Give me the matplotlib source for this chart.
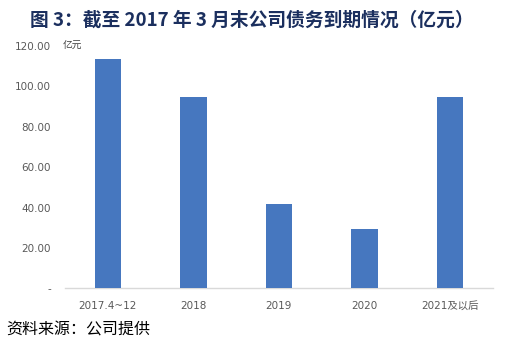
import matplotlib
matplotlib.use("Agg")
import matplotlib.pyplot as plt
import matplotlib.ticker as mticker

# --------------------------------------------------------------------------- #
# Data
# --------------------------------------------------------------------------- #

categories = ["2017.4~12", "2018", "2019", "2020", "2021及以后"]
amounts = [113.5, 94.7, 41.8, 29.3, 94.7]
y_ticks = [0, 20, 40, 60, 80, 100, 120]

TITLE = "图 3：截至 2017 年 3 月末公司债务到期情况（亿元）"
SOURCE = "资料来源：公司提供"
UNIT = "亿元"

BAR_COLOR = "#4677BF"
TICK_COLOR = "#595959"
TITLE_COLOR = "#1B2F5E"

plt.rcParams["font.family"] = ["DejaVu Sans", "Noto Sans CJK SC"]


def _fmt(v, _pos):
    return "-" if v == 0 else f"{v:.2f}"


fig = plt.figure(figsize=(5.16, 3.57), dpi=100)
ax = fig.add_axes([0.126, 0.192, 0.829, 0.680])

x = range(len(categories))
ax.bar(x, amounts, width=0.31, color=BAR_COLOR, zorder=3)

ax.set_xlim(-0.5, len(categories) - 0.5)
ax.set_ylim(0, 120)
ax.set_yticks(y_ticks)
ax.yaxis.set_major_formatter(mticker.FuncFormatter(_fmt))
ax.set_xticks(list(x))
ax.set_xticklabels(categories, family=["DejaVu Sans", "Noto Sans CJK SC"])

ax.tick_params(axis="both", length=0, labelsize=7.5, colors=TICK_COLOR)
ax.tick_params(axis="x", pad=9)
ax.tick_params(axis="y", pad=10)
for side in ["top", "right", "left"]:
    ax.spines[side].set_visible(False)
ax.spines["bottom"].set_color("#D9D9D9")
ax.spines["bottom"].set_linewidth(1.0)

# unit label next to top tick
ax.text(-0.53, 120, UNIT, fontsize=7, color="#404040",
        family="Noto Sans CJK SC", ha="left", va="center")

fig.text(0.058, 0.944, TITLE, fontsize=13.5, fontweight="bold",
         color=TITLE_COLOR, family=["Noto Sans CJK SC"], ha="left", va="center")
fig.text(0.012, 0.075, SOURCE, fontsize=11.5, color="black",
         family=["Noto Sans CJK SC"], ha="left", va="center")

fig.savefig("out.png", dpi=100)
